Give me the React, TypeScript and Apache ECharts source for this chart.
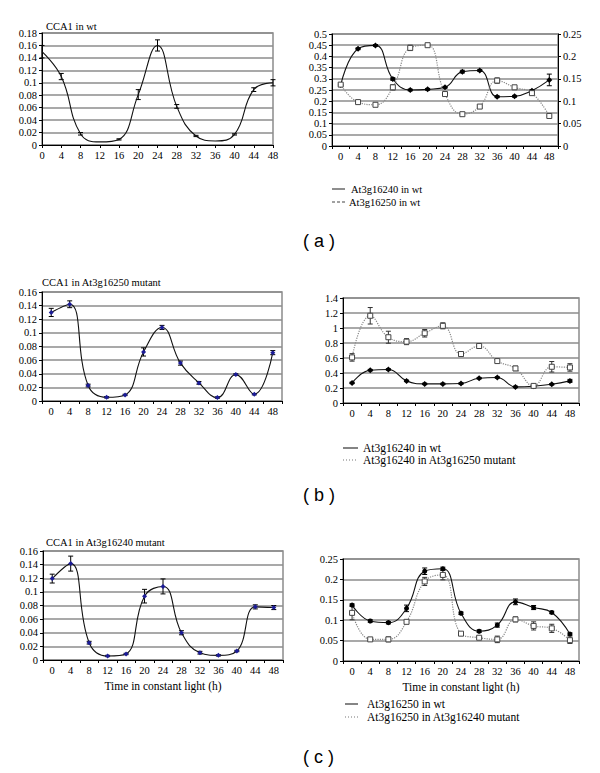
import React, { useEffect, useRef } from "react";
import * as echarts from "echarts";

// ---------- data ----------
const hourLabels = ["0", "4", "8", "12", "16", "20", "24", "28", "32", "36", "40", "44", "48"];
const hourValues = [0, 4, 8, 12, 16, 20, 24, 28, 32, 36, 40, 44, 48];

// (a) left: CCA1 in wt
const cca1Wt = [0.150, 0.110, 0.018, 0.005, 0.009, 0.081, 0.160, 0.062, 0.0145, 0.0065, 0.017, 0.089, 0.100];
const cca1WtErr = [0.01, 0.005, 0.002, 0, 0.001, 0.008, 0.009, 0.003, 0.001, 0, 0.001, 0.003, 0.005];

// (a) right
const g240Wt = [0.272, 0.434, 0.449, 0.299, 0.250, 0.253, 0.262, 0.332, 0.337, 0.220, 0.222, 0.247, 0.295];
const g240WtErr = [0.004, 0.004, 0.004, 0.006, 0.004, 0.004, 0.004, 0.006, 0.004, 0.004, 0.004, 0.004, 0.026];
const g250WtA = [0.137, 0.098, 0.092, 0.131, 0.219, 0.225, 0.116, 0.071, 0.088, 0.146, 0.131, 0.118, 0.067];
const g250WtAErr = [0.002, 0.002, 0.002, 0.006, 0.006, 0.002, 0.002, 0.002, 0.002, 0.006, 0.003, 0.002, 0.002];

// (b) left: CCA1 in At3g16250 mutant
const cca1In250 = [0.130, 0.142, 0.0227, 0.0054, 0.0089, 0.072, 0.108, 0.0556, 0.0266, 0.005, 0.039, 0.010, 0.071];
const cca1In250Err = [0.006, 0.005, 0.002, 0.001, 0.001, 0.006, 0.003, 0.003, 0.002, 0.001, 0.001, 0.001, 0.003];

// (b) right
const g240WtB = [0.268, 0.438, 0.447, 0.295, 0.255, 0.255, 0.260, 0.331, 0.340, 0.215, 0.224, 0.250, 0.295];
const g240WtBErr = [0.01, 0.01, 0.01, 0.01, 0.01, 0.01, 0.01, 0.01, 0.01, 0.01, 0.01, 0.01, 0.02];
const g240In250 = [0.608, 1.163, 0.877, 0.818, 0.930, 1.029, 0.653, 0.760, 0.559, 0.461, 0.228, 0.483, 0.474];
const g240In250Err = [0.05, 0.11, 0.08, 0.04, 0.05, 0.04, 0.03, 0.03, 0.02, 0.03, 0.02, 0.07, 0.05];

// (c) left: CCA1 in At3g16240 mutant
const cca1In240 = [0.1195, 0.1415, 0.0254, 0.0059, 0.0088, 0.0937, 0.108, 0.040, 0.0107, 0.0068, 0.0132, 0.078, 0.077];
const cca1In240Err = [0.0065, 0.011, 0.002, 0.001, 0.001, 0.01, 0.011, 0.003, 0.002, 0.001, 0.001, 0.003, 0.003];

// (c) right
const g250WtC = [0.137, 0.098, 0.094, 0.129, 0.220, 0.226, 0.117, 0.073, 0.088, 0.145, 0.131, 0.119, 0.066];
const g250WtCErr = [0.003, 0.003, 0.003, 0.008, 0.008, 0.004, 0.003, 0.003, 0.005, 0.007, 0.005, 0.003, 0.003];
const g250In240 = [0.118, 0.053, 0.053, 0.096, 0.195, 0.211, 0.067, 0.057, 0.053, 0.102, 0.086, 0.080, 0.051];
const g250In240Err = [0.017, 0.002, 0.006, 0.003, 0.01, 0.012, 0.002, 0.002, 0.008, 0.006, 0.01, 0.01, 0.008];

// ---------- styling helpers ----------
const SERIF = "Times New Roman, Liberation Serif, DejaVu Serif, serif";
const GRID_COLOR = "#8c8c8c";

function yAxis(gridIndex: number, max: number, interval: number, position = "left", split = true) {
  return {
    type: "value",
    gridIndex,
    min: 0,
    max,
    interval,
    position,
    axisLine: { show: true, lineStyle: { color: "#000", width: 1 } },
    axisTick: { show: true, length: 3, lineStyle: { color: "#000" } },
    axisLabel: { fontFamily: SERIF, fontSize: 10.5, color: "#000", margin: 5 },
    splitLine: { show: split, lineStyle: { color: GRID_COLOR, width: 1.5 } },
  };
}

function catAxis(gridIndex: number, name = "") {
  return {
    type: "category",
    gridIndex,
    data: hourLabels,
    boundaryGap: true,
    axisLine: { show: true, lineStyle: { color: "#000", width: 1 } },
    axisTick: { show: true, length: 3, interval: 0, lineStyle: { color: "#000" } },
    axisLabel: { fontFamily: SERIF, fontSize: 10.5, color: "#000", margin: 5, interval: 0 },
    splitLine: { show: false },
    name,
    nameLocation: "middle",
    nameGap: 20,
    nameTextStyle: { fontFamily: SERIF, fontSize: 11.5, color: "#000" },
  };
}

function errSeries(xi: number, yi: number, vals: number[], errs: number[], color: string, numericX = false) {
  const data: number[][] = [];
  vals.forEach((v, i) => {
    if (errs[i] > 0) data.push([numericX ? hourValues[i] : i, v - errs[i], v + errs[i]]);
  });
  return {
    type: "custom",
    xAxisIndex: xi,
    yAxisIndex: yi,
    silent: true,
    z: 2,
    data,
    encode: { x: 0, y: [1, 2] },
    renderItem: (_p: any, api: any) => {
      const x = api.value(0);
      const a = api.coord([x, api.value(1)]);
      const b = api.coord([x, api.value(2)]);
      const w = 2.5;
      const st = { stroke: color, lineWidth: 1 };
      return {
        type: "group",
        children: [
          { type: "line", shape: { x1: a[0], y1: a[1], x2: b[0], y2: b[1] }, style: st },
          { type: "line", shape: { x1: a[0] - w, y1: a[1], x2: a[0] + w, y2: a[1] }, style: st },
          { type: "line", shape: { x1: b[0] - w, y1: b[1], x2: b[0] + w, y2: b[1] }, style: st },
        ],
      };
    },
  };
}

function solidSeries(name: string, xi: number, yi: number, data: any[], symbol: string, symbolColor: string, size = 5) {
  return {
    name,
    type: "line",
    xAxisIndex: xi,
    yAxisIndex: yi,
    data,
    smooth: 0.45,
    z: 3,
    symbol,
    symbolSize: size,
    showSymbol: symbol !== "none",
    itemStyle: { color: symbolColor, borderColor: symbolColor, borderWidth: 0 },
    lineStyle: { color: "#111", width: 1.1, type: "solid" },
  };
}

function dottedSeries(name: string, xi: number, yi: number, data: number[]) {
  return {
    name,
    type: "line",
    xAxisIndex: xi,
    yAxisIndex: yi,
    data,
    smooth: 0.45,
    z: 3,
    symbol: "rect",
    symbolSize: 5,
    itemStyle: { color: "#fff", borderColor: "#444", borderWidth: 1 },
    lineStyle: { color: "#888", width: 1.2, type: "dotted" },
  };
}

function text(x: number, y: number, t: string, size: number, family: string, align = "left") {
  return {
    type: "text",
    x,
    y,
    silent: true,
    style: {
      text: t,
      fontSize: size,
      fontFamily: family,
      fill: "#000",
      align,
      verticalAlign: "middle",
      textAlign: align,
      textVerticalAlign: "middle",
    },
  };
}

function legendLine(x1: number, x2: number, y: number, dash: any, color: string) {
  return {
    type: "line",
    silent: true,
    shape: { x1, y1: y, x2, y2: y },
    style: { stroke: color, lineWidth: 1.2, lineDash: dash },
  };
}

const gridBox = { show: true, borderColor: GRID_COLOR, borderWidth: 1.5, containLabel: false };

export default function App() {
  const ref = useRef<HTMLDivElement>(null);

  useEffect(() => {
    if (!ref.current) return;
    const chart = echarts.init(ref.current, undefined, { renderer: "svg" });
    const numericA = hourValues.map((h, i) => [h, cca1Wt[i]]);
    const SANS = "Liberation Sans, Arial, sans-serif";

    chart.setOption({
      animation: false,
      backgroundColor: "#fff",
      grid: [
        { ...gridBox, left: 42, top: 33, width: 231, height: 112 },
        { ...gridBox, left: 332, top: 34, width: 226, height: 112 },
        { ...gridBox, left: 42, top: 292, width: 240, height: 109 },
        { ...gridBox, left: 343, top: 298, width: 236, height: 105 },
        { ...gridBox, left: 43, top: 551, width: 240, height: 109 },
        { ...gridBox, left: 343, top: 559, width: 236, height: 102 },
      ],
      xAxis: [
        {
          type: "value",
          gridIndex: 0,
          min: 0,
          max: 48,
          interval: 4,
          axisLine: { show: true, lineStyle: { color: "#000", width: 1 } },
          axisTick: { show: true, length: 3, lineStyle: { color: "#000" } },
          axisLabel: { fontFamily: SERIF, fontSize: 10.5, color: "#000", margin: 5 },
          splitLine: { show: false },
        },
        catAxis(1),
        catAxis(2),
        catAxis(3),
        catAxis(4, "Time in constant light (h)"),
        catAxis(5, "Time in constant light (h)"),
      ],
      yAxis: [
        yAxis(0, 0.18, 0.02),
        yAxis(1, 0.5, 0.05),
        yAxis(1, 0.25, 0.05, "right", false),
        yAxis(2, 0.16, 0.02),
        yAxis(3, 1.4, 0.2),
        yAxis(4, 0.16, 0.02),
        yAxis(5, 0.25, 0.05),
      ],
      series: [
        // (a) left
        errSeries(0, 0, cca1Wt, cca1WtErr, "#000", true),
        solidSeries("CCA1 in wt", 0, 0, numericA, "none", "#000"),
        // (a) right
        errSeries(1, 1, g240Wt, g240WtErr, "#000"),
        solidSeries("At3g16240 in wt", 1, 1, g240Wt, "diamond", "#000", 6),
        errSeries(1, 2, g250WtA, g250WtAErr, "#444"),
        dottedSeries("At3g16250 in wt", 1, 2, g250WtA),
        // (b) left
        errSeries(2, 3, cca1In250, cca1In250Err, "#000"),
        solidSeries("CCA1 in At3g16250 mutant", 2, 3, cca1In250, "diamond", "#1c1c96", 5),
        // (b) right
        errSeries(3, 4, g240WtB, g240WtBErr, "#000"),
        solidSeries("At3g16240 in wt ", 3, 4, g240WtB, "diamond", "#000", 6),
        errSeries(3, 4, g240In250, g240In250Err, "#333"),
        dottedSeries("At3g16240 in At3g16250 mutant", 3, 4, g240In250),
        // (c) left
        errSeries(4, 5, cca1In240, cca1In240Err, "#000"),
        solidSeries("CCA1 in At3g16240 mutant", 4, 5, cca1In240, "diamond", "#1c1c96", 5),
        // (c) right
        errSeries(5, 6, g250WtC, g250WtCErr, "#000"),
        solidSeries("At3g16250 in wt", 5, 6, g250WtC, "circle", "#000", 5),
        errSeries(5, 6, g250In240, g250In240Err, "#333"),
        dottedSeries("At3g16250 in At3g16240 mutant", 5, 6, g250In240),
      ],
      graphic: [
        text(46, 26, "CCA1 in wt", 10.5, SERIF),
        text(42, 282, "CCA1 in At3g16250 mutant", 10.5, SERIF),
        text(46, 542, "CCA1 in At3g16240 mutant", 10.5, SERIF),
        // legend (a)
        legendLine(332, 345, 189, null, "#444"),
        text(351, 189, "At3g16240 in wt", 10.5, SERIF),
        legendLine(332, 345, 202, [3, 2], "#444"),
        text(349, 202, "At3g16250 in wt", 10.5, SERIF),
        // legend (b)
        legendLine(343, 358, 448, null, "#333"),
        text(363, 448, "At3g16240 in wt", 11.5, SERIF),
        legendLine(343, 358, 460, [1, 2], "#777"),
        text(363, 460, "At3g16240 in At3g16250 mutant", 11.5, SERIF),
        // legend (c)
        legendLine(345, 358, 704, null, "#333"),
        text(367, 704, "At3g16250 in wt", 11.5, SERIF),
        legendLine(345, 358, 717, [1, 2], "#777"),
        text(367, 717, "At3g16250 in At3g16240 mutant", 11.5, SERIF),
        // panel labels
        text(303, 241, "( a )", 18, SANS),
        text(303, 495, "( b )", 18, SANS),
        text(303, 757, "( c )", 18, SANS),
      ],
    });
    return () => chart.dispose();
  }, []);

  return (
    <div
      ref={ref}
      style={{ position: "fixed", left: 0, top: 0, width: 600, height: 773, background: "#fff" }}
    />
  );
}
